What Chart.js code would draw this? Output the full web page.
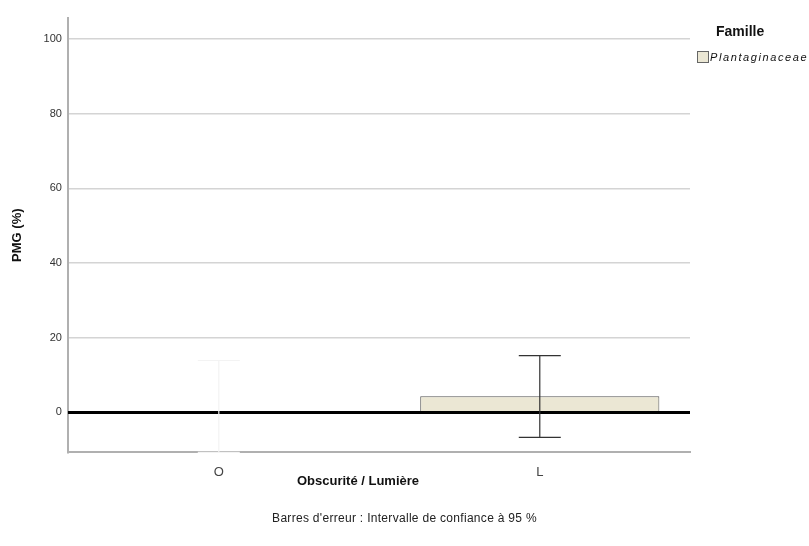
<!DOCTYPE html>
<html lang="fr">
<head>
  <meta charset="UTF-8">
  <title>PMG (%) - Obscurité / Lumière</title>
  <script src="https://cdn.jsdelivr.net/npm/chart.js"></script>
  <style>
    html, body {
      margin: 0;
      padding: 0;
      background: #fff;
      font-family: "Liberation Sans", Arial, sans-serif;
    }
    #wrap {
      position: relative;
      width: 809px;
      height: 546px;
      overflow: hidden;
    }
    #legend {
      position: absolute;
      left: 697px;
      top: 23px;
      width: 112px;
      overflow: hidden;
      white-space: nowrap;
    }
    #legend .title {
      font-weight: bold;
      font-size: 14px;
      color: #111;
      margin-left: 19px;
    }
    #legend .item {
      margin-top: 12px;
      font-size: 11px;
      font-style: italic;
      letter-spacing: 1.6px;
      color: #111;
    }
    #legend .box {
      display: inline-block;
      width: 10px;
      height: 10px;
      background: #ebe7d4;
      border: 1px solid #666;
      vertical-align: -2px;
      margin-right: 1px;
    }
    #xtitle {
      position: absolute;
      left: 0;
      width: 716px;
      top: 473px;
      text-align: center;
      font-weight: bold;
      font-size: 13px;
      color: #111;
    }
    #note {
      position: absolute;
      left: 0;
      width: 809px;
      top: 511px;
      text-align: center;
      font-size: 12px;
      letter-spacing: 0.3px;
      color: #222;
    }
  </style>
</head>
<body>
  <div id="wrap">
    <canvas id="chart" width="809" height="546"></canvas>
    <div id="legend">
      <div class="title">Famille</div>
      <div class="item"><span class="box"></span>Plantaginaceae</div>
    </div>
    <div id="xtitle">Obscurité / Lumière</div>
    <div id="note">Barres d'erreur : Intervalle de confiance à 95 %</div>
  </div>

  <script>
    // données
    const categories = ['O', 'L'];
    const meanPMG = [0.2, 4.3];
    const ciLow = [-10.7, -6.7];
    const ciHigh = [13.9, 15.2];
    const errColors = ['#f3f3f3', '#333333'];
    const yTicks = [0, 20, 40, 60, 80, 100];

    // ligne du zéro + barres d'erreur
    const extras = {
      id: 'extras',
      afterDatasetsDraw(chart) {
        const ctx = chart.ctx;
        const x = chart.scales.x;
        const y = chart.scales.y;
        const area = chart.chartArea;

        ctx.save();
        ctx.strokeStyle = '#000';
        ctx.lineWidth = 3;
        const y0 = y.getPixelForValue(0);
        ctx.beginPath();
        ctx.moveTo(area.left, y0);
        ctx.lineTo(area.right, y0);
        ctx.stroke();

        ctx.lineWidth = 1.2;
        categories.forEach((c, i) => {
          const cx = x.getPixelForValue(i);
          const top = y.getPixelForValue(ciHigh[i]);
          const bot = y.getPixelForValue(ciLow[i]);
          ctx.strokeStyle = errColors[i];
          ctx.beginPath();
          ctx.moveTo(cx, top);
          ctx.lineTo(cx, bot);
          ctx.moveTo(cx - 21, top);
          ctx.lineTo(cx + 21, top);
          ctx.moveTo(cx - 21, bot);
          ctx.lineTo(cx + 21, bot);
          ctx.stroke();
        });
        ctx.restore();
      }
    };

    new Chart(document.getElementById('chart'), {
      type: 'bar',
      data: {
        labels: categories,
        datasets: [{
          label: 'Plantaginaceae',
          data: meanPMG,
          backgroundColor: ['#f7f6f0', '#ebe7d4'],
          borderColor: ['#dddddd', '#555555'],
          borderWidth: 1,
          borderSkipped: 'bottom',
          barPercentage: 0.745,
          categoryPercentage: 1
        }]
      },
      options: {
        responsive: false,
        animation: false,
        layout: { padding: { top: 18, right: 119, left: 6, bottom: 62 } },
        plugins: {
          legend: { display: false },
          tooltip: { enabled: false }
        },
        scales: {
          x: {
            // catégories pas tout à fait centrées dans l'original
            afterBuildTicks(axis) {
              axis._startValue = -0.47;
              axis._valueRange = 1.938;
            },
            grid: { display: false },
            border: { color: '#b0b0b0', width: 2 },
            ticks: {
              color: '#444',
              font: { family: 'Liberation Sans', size: 13 },
              padding: 4
            }
          },
          y: {
            min: -10.7,
            max: 105.6,
            afterBuildTicks(axis) {
              axis.ticks = yTicks.map(v => ({ value: v }));
            },
            grid: { color: '#d4d4d4', lineWidth: 1.5, drawTicks: false },
            border: { color: '#b0b0b0', width: 2 },
            ticks: {
              color: '#333',
              font: { family: 'Liberation Sans', size: 11 },
              padding: 6
            },
            title: {
              display: true,
              text: 'PMG (%)',
              color: '#111',
              font: { family: 'Liberation Sans', size: 13, weight: 'bold' },
              padding: { bottom: 12 }
            }
          }
        }
      },
      plugins: [extras]
    });
  </script>
</body>
</html>
